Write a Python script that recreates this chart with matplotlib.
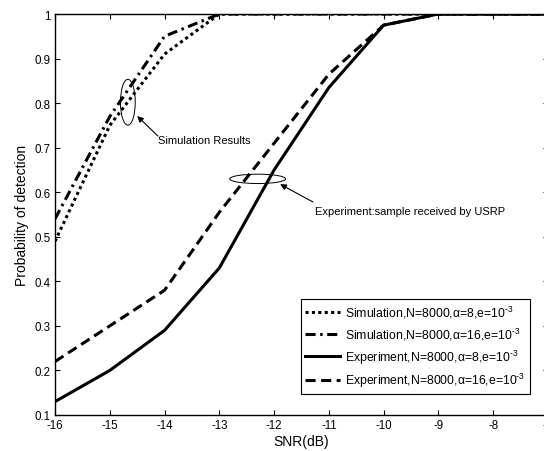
import matplotlib
matplotlib.use('Agg')
import matplotlib.pyplot as plt
from matplotlib.patches import Ellipse
from matplotlib.ticker import FuncFormatter
import numpy as np

# values
snr = [-16, -15, -14, -13, -12, -11, -10, -9, -8, -7]
sim_a8 = [0.49, 0.75, 0.91, 1.0, 1.0, 1.0, 1.0, 1.0, 1.0, 1.0]
sim_a16 = [0.54, 0.77, 0.95, 1.0, 1.0, 1.0, 1.0, 1.0, 1.0, 1.0]
exp_a8 = [0.13, 0.20, 0.29, 0.43, 0.65, 0.835, 0.975, 1.0, 1.0, 1.0]
exp_a16 = [0.22, 0.30, 0.38, 0.555, 0.71, 0.865, 0.975, 1.0, 1.0, 1.0]

labels = [r'Simulation,N=8000,α=8,e=10$^{\text{-}3}$',
          r'Simulation,N=8000,α=16,e=10$^{\text{-}3}$',
          r'Experiment,N=8000,α=8,e=10$^{\text{-}3}$',
          r'Experiment,N=8000,α=16,e=10$^{\text{-}3}$']

plt.rcParams['font.family'] = ['Liberation Sans', 'DejaVu Sans']
plt.rcParams['mathtext.fontset'] = 'custom'
plt.rcParams['mathtext.rm'] = 'Liberation Sans'
plt.rcParams['mathtext.it'] = 'Liberation Sans:italic'
plt.rcParams['axes.unicode_minus'] = False

W, H = 544, 452
fig = plt.figure(figsize=(W/100, H/100), dpi=100)
# axes runs slightly past the right edge, as in the cropped original
ax = fig.add_axes([55/W, 36/H, 493/W, 401/H])

lw = 2.2
ax.plot(snr, sim_a8, color='k', lw=lw, ls=(0, (1, 1.1)), label=labels[0])
ax.plot(snr, sim_a16, color='k', lw=lw, ls=(0, (3.3, 1.5, 0.8, 1.5)), label=labels[1])
ax.plot(snr, exp_a8, color='k', lw=lw, ls='-', label=labels[2])
ax.plot(snr, exp_a16, color='k', lw=lw, ls=(0, (3.3, 1.8)), label=labels[3])

ax.set_xlim(-16, -7)
ax.set_ylim(0.1, 1.0)
ax.set_xticks(snr)
ax.set_yticks(np.arange(1, 11) / 10)
ax.yaxis.set_major_formatter(FuncFormatter(lambda v, p: '%g' % round(v, 2)))
ax.tick_params(direction='in', top=True, right=True, length=3.5, width=0.8,
               labelsize=8.3, pad=3)
for s in ax.spines.values():
    s.set_linewidth(1.0)

ax.set_xlabel('SNR(dB)', fontsize=10, labelpad=2)
ax.set_ylabel('Probability of detection', fontsize=10, labelpad=4)

# annotations
ax.add_patch(Ellipse((-14.67, 0.802), 0.27, 0.103, fill=False, lw=0.7, ec='k'))
ax.annotate('', xy=(-14.50, 0.771), xytext=(-14.12, 0.726),
            arrowprops=dict(arrowstyle='-|>', color='k', lw=0.8,
                            mutation_scale=9, shrinkA=0, shrinkB=0))
ax.text(-14.12, 0.717, 'Simulation Results', fontsize=8, ha='left', va='center')

ax.add_patch(Ellipse((-12.30, 0.63), 1.02, 0.021, fill=False, lw=0.7, ec='k'))
ax.annotate('', xy=(-11.89, 0.618), xytext=(-11.29, 0.578),
            arrowprops=dict(arrowstyle='-|>', color='k', lw=0.8,
                            mutation_scale=9, shrinkA=0, shrinkB=0))
ax.text(-11.25, 0.558, 'Experiment:sample received by USRP', fontsize=8,
        ha='left', va='center')

leg = ax.legend(loc='lower left', bbox_to_anchor=(0.498, 0.052), borderaxespad=0,
                fontsize=8.8, handlelength=2.8, handletextpad=0.4,
                labelspacing=0.45, borderpad=0.4, fancybox=False,
                framealpha=1, edgecolor='k')
leg.get_frame().set_linewidth(0.8)

fig.savefig('out.png', dpi=100)
